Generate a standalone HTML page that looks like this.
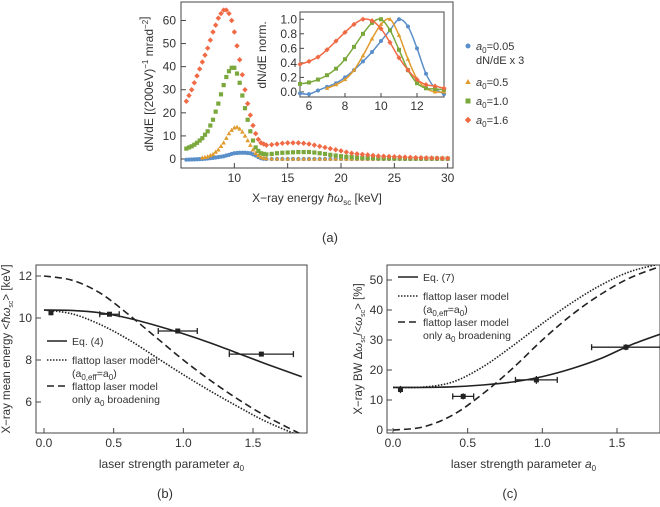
<!DOCTYPE html>
<html><head><meta charset="utf-8"><style>
html,body{margin:0;padding:0;background:#fff;}
svg{display:block;font-family:"Liberation Sans",sans-serif;}
</style></head><body>
<svg id="fig" width="660" height="507" viewBox="0 0 660 507" xmlns="http://www.w3.org/2000/svg"></svg>
<script>
// ---- Panel (a) data ----
const aXcore = [5.5,5.75,6,6.25,6.5,6.75,7,7.25,7.5,7.75,8,8.25,8.5,8.75,9,9.25,9.5,9.75,10,10.25,10.5,10.75,11,11.25,11.5,11.75,12,12.25,12.5,12.75,13];
const aXtail = [13.5,14,14.5,15,15.5,16,16.5,17,17.5,18,18.5,19,19.5,20,20.5,21,21.5,22,22.5,23,23.5,24,24.5,25,25.5,26,26.5,27,27.5,28,28.5,29,29.5,30];
const aRedCore = [25,27.5,30,33,36,39,42,45,48,51.5,55,58,61,63,64.5,64.5,63,60,55,49,43,36.5,30,24,19,14.5,11,8.5,7,6.5,6];
const aRedTail = [6.2,6.5,6.8,7,7,7,6.8,6.5,6,5.5,5,4.5,4,3.5,3,2.5,2.2,2,1.8,1.5,1.3,1.2,1.1,1,0.9,0.8,0.7,0.6,0.55,0.5,0.45,0.4,0.35,0.3];
const aGreenCore = [4.5,5,5.5,6.2,7,8,9,10.5,12,14.5,17,20.5,24,28,32,35.5,38,39.5,39.5,37,33,27.5,22,17,12,8,5,3.5,2.5,2.2,2];
const aGreenTail = [2.2,2.5,2.7,2.8,2.9,3,3,3,2.8,2.5,2.2,1.8,1.5,1.2,1,0.8,0.6,0.5,0.45,0.4,0.35,0.3,0.3,0.25,0.25,0.2,0.2,0.2,0.2,0.2,0.2,0.2,0.2,0.2];
const aOrangeCore = [null,null,null,null,null,null,0.5,0.7,1,1.5,2,3,4,5.5,7,9,11,12.5,13.5,13.8,13,11.7,10,8,6,4,2.5,1.5,0.8,0.4,0.2];
const aOrangeTail = [0.1,0,0,0,0,0,0,0,0,0,0,0,0,0,0,0,0,0,0,0,0,0,0,0,0,0,0,0,0,0,0,0,0,0];
const aBlueCore = [-0.3,-0.25,-0.2,-0.15,-0.1,-0.05,0,0.1,0.2,0.35,0.5,0.65,0.8,1,1.2,1.5,1.8,2.2,2.5,2.6,2.7,2.7,2.7,2.6,2.5,2,1.5,0.8,0.3,0.1,0];
const aBlueTail = [0,0,0,0,0,0,0,0,0,0,0,0,0,0,0,0,0,0,0,0,0,0,0,0,0,0,0,0,0,0,0,0,0,0];
const aX = aXcore.concat(aXtail);
const aRed = aRedCore.concat(aRedTail);
const aGreen = aGreenCore.concat(aGreenTail);
const aOrange = aOrangeCore.concat(aOrangeTail);
const aBlue = aBlueCore.concat(aBlueTail);
const aXTicks = [10,15,20,25,30];
const aYTicks = [0,10,20,30,40,50,60];
// inset
const iX = [5.5,6,6.5,7,7.5,8,8.5,9,9.5,10,10.5,11,11.5,12,12.5,13,13.5];
const iRed = [0.38,0.42,0.48,0.58,0.7,0.82,0.93,1.0,0.98,0.87,0.68,0.47,0.3,0.17,0.1,0.08,0.05];
const iGreen = [0.11,0.13,0.17,0.23,0.32,0.45,0.62,0.8,0.95,1.0,0.85,0.58,0.3,0.12,0.05,0.04,0.03];
const iOrange = [null,null,null,0.05,0.1,0.17,0.3,0.5,0.73,0.93,1.0,0.78,0.45,0.18,0.05,0.0,0.0];
const iBlue = [-0.02,-0.03,0.02,0.07,0.12,0.2,0.3,0.42,0.55,0.7,0.85,1.0,0.9,0.6,0.25,0.05,-0.03];
const iXTicks = [6,8,10,12];
const iYTicks = [0,0.2,0.4,0.6,0.8,1.0];
// ---- Panel (b)/(c) data ----
const mA = [0,0.2,0.4,0.6,0.8,1.0,1.2,1.4,1.6,1.85];
const bSolid = [10.38,10.36,10.25,10.0,9.65,9.25,8.8,8.3,7.8,7.2];
const bDotted = [10.38,10.2,9.7,9.0,8.15,7.3,6.5,5.75,5.05,4.35];
const bDashed = [12,11.8,11.2,10.2,9.1,8.0,7.0,6.1,5.3,4.45];
const ptA = [0.05,0.47,0.96,1.56];
const ptAerr = [0,0.07,0.14,0.23];
const bPts = [10.25,10.18,9.38,8.28];
const bErr = [0.12,0.1,0.1,0.1];
const cSolid = [14.2,14.2,14.4,15,16,17.8,20.5,24,28.5,33];
const cDotted = [14.2,14.3,16,21,28,35.5,42.5,48.5,53,56];
const cDashed = [0,1,5,12,20.5,30,38.5,45.5,51,55.5];
const cPts = [13.5,11.2,16.7,27.6];
const cErr = [1.2,1,1.3,1];
const bXTicks = [0,0.5,1.0,1.5];
const bYTicks = [6,8,10,12];
const cYTicks = [0,10,20,30,40,50];

const NS="http://www.w3.org/2000/svg";
const svg=document.getElementById('fig');
function mk(tag,attrs,parent){const e=document.createElementNS(NS,tag);for(const k in attrs)e.setAttribute(k,attrs[k]);(parent||svg).appendChild(e);return e;}
function lin(d0,d1,r0,r1){return v=>r0+(v-d0)*(r1-r0)/(d1-d0);}
function smooth(pts){let d="M"+pts[0][0]+","+pts[0][1];for(let i=0;i<pts.length-1;i++){const p0=pts[i-1]||pts[i],p1=pts[i],p2=pts[i+1],p3=pts[i+2]||p2;d+=" C"+(p1[0]+(p2[0]-p0[0])/6)+","+(p1[1]+(p2[1]-p0[1])/6)+" "+(p2[0]-(p3[0]-p1[0])/6)+","+(p2[1]-(p3[1]-p1[1])/6)+" "+p2[0]+","+p2[1];}return d;}
function txt(x,y,s,opt,parent){const t=mk('text',Object.assign({x:x,y:y,'font-size':12,fill:'#333'},opt||{}),parent);t.innerHTML=s;return t;}
const COL={blue:'#5b8fc9',orange:'#e19a2c',green:'#7aa83c',red:'#ef6a45'};
function marker(g,shape,x,y,c,s){
  if(shape==='circle')return mk('circle',{cx:x,cy:y,r:s,fill:c},g);
  if(shape==='tri')return mk('polygon',{points:`${x},${y-s*1.2} ${x-s*1.1},${y+s*0.8} ${x+s*1.1},${y+s*0.8}`,fill:c},g);
  if(shape==='sq')return mk('rect',{x:x-s,y:y-s,width:2*s,height:2*s,fill:c},g);
  return mk('polygon',{points:`${x},${y-s*1.3} ${x+s*1.3},${y} ${x},${y+s*1.3} ${x-s*1.3},${y}`,fill:c},g);
}
function frame(name,x0,y0,x1,y1){const r=mk('rect',{x:x0,y:y0,width:x1-x0,height:y1-y0,fill:'none',stroke:'#444','stroke-width':1});}

// ===== Panel (a) =====
const ax=lin(5,30.5,181,453), ay=lin(-3.9,68,168,2);
frame('panel-a-frame',181,2,453,168);
const ga=mk('g',{});


aXTicks.forEach(v=>{mk('line',{x1:ax(v),x2:ax(v),y1:168,y2:163,stroke:'#444'},ga);const t=txt(ax(v),182,v,{'text-anchor':'middle'},ga);});
aYTicks.forEach(v=>{mk('line',{x1:181,x2:186,y1:ay(v),y2:ay(v),stroke:'#444'},ga);const t=txt(176,ay(v)+4,v,{'text-anchor':'end'},ga);});
const axl=txt(317,202,'X−ray energy <tspan font-style="italic">ħω</tspan><tspan font-size="8" dy="3">sc</tspan><tspan dy="-3"> [keV]</tspan>',{'text-anchor':'middle'});


const ayl=txt(0,0,'dN/dE [(200eV)<tspan font-size="8" dy="-5">−1</tspan><tspan dy="5"> mrad</tspan><tspan font-size="8" dy="-5">−2</tspan>]',{'text-anchor':'middle',transform:'translate(153,84) rotate(-90)'});


[[aBlue,'blue','circle'],[aOrange,'orange','tri'],[aGreen,'green','sq'],[aRed,'red','dia']].forEach(([arr,c,sh])=>{
  const g=mk('g',{});
  
  
  arr.forEach((v,i)=>{if(v===null)return;const m=marker(g,sh,ax(aX[i]),ay(v),COL[c],2.1);});
});
// inset
const ix=lin(5.5,13.5,300,444), iy=lin(-0.07,1.1,97,12);
mk('rect',{x:300,y:12,width:144,height:85,fill:'#fff'});
frame('inset-frame',300,12,444,97);
iXTicks.forEach(v=>{mk('line',{x1:ix(v),x2:ix(v),y1:97,y2:93,stroke:'#444'});const t=txt(ix(v),110,v,{'text-anchor':'middle'});});
iYTicks.forEach(v=>{mk('line',{x1:300,x2:304,y1:iy(v),y2:iy(v),stroke:'#444'});const t=txt(297,iy(v)+4,v.toFixed(1),{'text-anchor':'end'});});
const iyl=txt(0,0,'dN/dE norm.',{'text-anchor':'middle',transform:'translate(266,55) rotate(-90)'});


[[iBlue,'blue','circle'],[iOrange,'orange','tri'],[iGreen,'green','sq'],[iRed,'red','dia']].forEach(([arr,c,sh])=>{
  const pts=[];arr.forEach((v,i)=>{if(v!==null)pts.push([ix(iX[i]),iy(v)]);});
  const l=mk('path',{d:smooth(pts),fill:'none',stroke:COL[c],'stroke-width':1.5});
  
  
  arr.forEach((v,i)=>{if(v===null)return;const m=marker(svg,sh,ix(iX[i]),iy(v),COL[c],2);});
});
// legend
const leg=[['blue','circle','<tspan font-style="italic">a</tspan><tspan font-size="8" dy="3">0</tspan><tspan dy="-3">=0.05</tspan>',46],['orange','tri','<tspan font-style="italic">a</tspan><tspan font-size="8" dy="3">0</tspan><tspan dy="-3">=0.5</tspan>',82],['green','sq','<tspan font-style="italic">a</tspan><tspan font-size="8" dy="3">0</tspan><tspan dy="-3">=1.0</tspan>',101],['red','dia','<tspan font-style="italic">a</tspan><tspan font-size="8" dy="3">0</tspan><tspan dy="-3">=1.6</tspan>',120]];
leg.forEach(([c,sh,s,y])=>{const m=marker(svg,sh,468,y,COL[c],2.5);const t=txt(476,y+4,s,{'font-size':11});});
const lx=txt(476,64,'dN/dE x 3',{'font-size':11});


const la=txt(330,242,'(a)',{'text-anchor':'middle','font-size':13});



// ===== Panels (b) and (c) =====
function modelPanel(p){
  const x=lin(0,1.5,p.x0v,p.x15),y=lin(p.yA,p.yB,p.pyA,p.pyB);
  frame('panel-'+p.id+'-frame',p.l,265,p.r,433);
  bXTicks.forEach(v=>{mk('line',{x1:x(v),x2:x(v),y1:433,y2:428,stroke:'#444'});const t=txt(x(v),447,v.toFixed(1),{'text-anchor':'middle'});});
  p.yt.forEach(v=>{mk('line',{x1:p.l,x2:p.l+5,y1:y(v),y2:y(v),stroke:'#444'});const t=txt(p.l-4,y(v)+4,v,{'text-anchor':'end'});});
  const clip=mk('clipPath',{id:'clip'+p.id});mk('rect',{x:p.l,y:265,width:p.r-p.l,height:168},clip);
  [[p.solid,'none','solid'],[p.dotted,'1.5,1.5','dotted'],[p.dashed,'7,4','dashed']].forEach(([arr,da,n])=>{
    const l=mk('path',{d:smooth(arr.map((v,i)=>[x(mA[i]),y(v)])),fill:'none',stroke:'#222','stroke-width':1.6,'stroke-dasharray':da,'clip-path':'url(#clip'+p.id+')'});
    
    
  });
  ptA.forEach((a,i)=>{const g=mk('g',{stroke:'#222','stroke-width':1.3});
    
    
    const yy=y(p.pts[i]);
    if(ptAerr[i]>0){mk('line',{x1:x(a-ptAerr[i]),x2:x(a+ptAerr[i]),y1:yy,y2:yy},g);[a-ptAerr[i],a+ptAerr[i]].forEach(e=>mk('line',{x1:x(e),x2:x(e),y1:yy-3,y2:yy+3},g));}
    mk('line',{x1:x(a),x2:x(a),y1:y(p.pts[i]+p.err[i]),y2:y(p.pts[i]-p.err[i])},g);
    mk('rect',{x:x(a)-2.5,y:yy-2.5,width:5,height:5,fill:'#222',stroke:'none'},g);});
  // legend
  const L=p.leg;
  [['none',L.y],['1.5,1.5',L.y+19],['7,4',L.y+45]].forEach(([da,yy])=>{const l=mk('line',{x1:L.x,x2:L.x+20,y1:yy,y2:yy,stroke:'#222','stroke-width':1.6,'stroke-dasharray':da});});
  const rows=[[p.eq,L.y+4],['flattop laser model',L.y+23],['(a<tspan font-size="8" dy="3">0,eff</tspan><tspan dy="-3">=a</tspan><tspan font-size="8" dy="3">0</tspan><tspan dy="-3">)</tspan>',L.y+36],['flattop laser model',L.y+49],['only a<tspan font-size="8" dy="3">0</tspan><tspan dy="-3"> broadening</tspan>',L.y+62]];
  rows.forEach(([s,yy])=>{const t=txt(L.x+25,yy,s,{'font-size':10.5});});
  const xl=txt((p.l+p.r)/2,468,'laser strength parameter <tspan font-style="italic">a</tspan><tspan font-size="8" dy="3">0</tspan>',{'text-anchor':'middle'});
  
  
  const yl=txt(0,0,p.ylab,{'text-anchor':'middle','font-size':11.5,transform:`translate(${p.ylx},349) rotate(-90)`});
  
  
  const pl=txt(p.labx,498,'('+p.id+')',{'text-anchor':'middle','font-size':13});
  
  
}
modelPanel({id:'b',l:36,r:307,x0v:44,x15:253,yA:12,yB:6,pyA:276,pyB:402,yt:bYTicks,solid:bSolid,dotted:bDotted,dashed:bDashed,pts:bPts,err:bErr,
  leg:{x:47,y:341},eq:'Eq. (4)',ylab:'X−ray mean energy &lt;<tspan font-style="italic">ħω</tspan><tspan font-size="7" dy="3">sc</tspan><tspan dy="-3">&gt; [keV]</tspan>',ylx:10,labx:165});
modelPanel({id:'c',l:387,r:660,x0v:393,x15:617,yA:0,yB:50,pyA:430,pyB:280,yt:cYTicks,solid:cSolid,dotted:cDotted,dashed:cDashed,pts:cPts,err:cErr,
  leg:{x:398,y:277},eq:'Eq. (7)',ylab:'X−ray BW Δ<tspan font-style="italic">ω</tspan><tspan font-size="7" dy="3">sc</tspan><tspan dy="-3">/&lt;</tspan><tspan font-style="italic">ω</tspan><tspan font-size="7" dy="3">sc</tspan><tspan dy="-3">&gt; [%]</tspan>',ylx:362,labx:510});
</script>
</body></html>
